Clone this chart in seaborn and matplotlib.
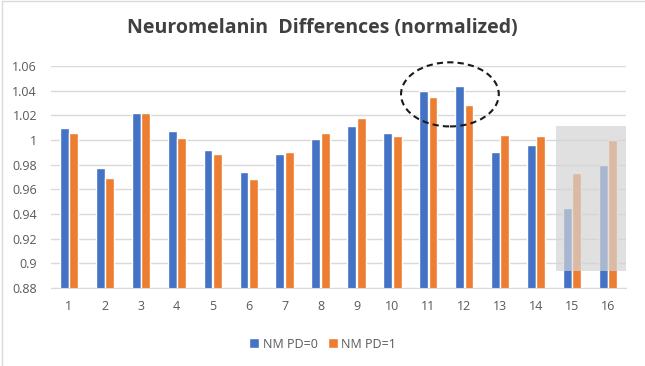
import numpy as np
import matplotlib
matplotlib.use("Agg")
import matplotlib.pyplot as plt
from matplotlib.patches import Ellipse, Rectangle
import pandas as pd
import seaborn as sns

# values
groups = [str(i) for i in range(1, 17)]
nm_pd0 = [1.010, 0.977, 1.022, 1.007, 0.992, 0.974, 0.989, 1.001,
          1.011, 1.006, 1.040, 1.044, 0.990, 0.996, 0.945, 0.980]
nm_pd1 = [1.006, 0.969, 1.022, 1.002, 0.989, 0.968, 0.990, 1.006,
          1.018, 1.003, 1.035, 1.028, 1.004, 1.003, 0.973, 1.000]
series = ["NM PD=0", "NM PD=1"]
colors = ["#4472C4", "#ED7D31"]
yticks = [0.88, 0.9, 0.92, 0.94, 0.96, 0.98, 1.0, 1.02, 1.04, 1.06]
ytick_labels = ["0.88", "0.9", "0.92", "0.94", "0.96", "0.98", "1", "1.02", "1.04", "1.06"]

df = pd.DataFrame({
    "group": groups * 2,
    "value": nm_pd0 + nm_pd1,
    "series": [series[0]] * 16 + [series[1]] * 16,
})

sns.set_style("white")
plt.rcParams['font.family'] = ['Open Sans', 'DejaVu Sans']
txt = "#595959"

fig = plt.figure(figsize=(6.45, 3.66), dpi=100)
ax = fig.add_axes([51 / 645, 1 - 288 / 366, 575 / 645, 222 / 366])

sns.barplot(data=df, x="group", y="value", hue="series", palette=colors,
            width=0.52, gap=0.05, ax=ax, saturation=1, legend=True)

ax.set_ylim(0.88, 1.06)
ax.set_xlim(-0.5, 15.5)
ax.set_yticks(yticks)
ax.set_yticklabels(ytick_labels)
ax.yaxis.grid(True, color="#D9D9D9", lw=1)
ax.set_axisbelow(True)
for s in ["top", "right", "left"]:
    ax.spines[s].set_visible(False)
ax.spines["bottom"].set_color("#D9D9D9")
ax.tick_params(axis="both", length=0, labelsize=9, colors=txt)
ax.tick_params(axis="x", pad=9)
ax.tick_params(axis="y", pad=10)
ax.set_xlabel("")
ax.set_ylabel("")

# highlight ellipse around 11-12
ax.add_patch(Ellipse((10.6, 1.037), 2.72, 0.052, fill=False, ls=(0, (3, 2)),
                     lw=1.5, ec="#1a1a1a", clip_on=False, zorder=5))
# grey box over 15-16
ax.add_patch(Rectangle((13.56, 0.8935), 1.94, 0.118, fc="#D4D4D4", alpha=0.7,
                       ec="none", zorder=4))

fig.suptitle("Neuromelanin  Differences (normalized)", y=1 - 28 / 366, va="center",
             fontsize=14, fontweight="bold", color="#404040")

h, l = ax.get_legend_handles_labels()
ax.legend_.remove()
fig.legend(h, l, loc="center", bbox_to_anchor=(0.5, 1 - 344 / 366), ncol=2,
           frameon=False, fontsize=9, labelcolor=txt, handlelength=0.8,
           handleheight=0.8, handletextpad=0.3, columnspacing=0.8)

# chart border (top and left visible)
fig.add_artist(plt.Line2D([2 / 645, 1], [1 - 1 / 366, 1 - 1 / 366], color="#D9D9D9", lw=1))
fig.add_artist(plt.Line2D([2 / 645, 2 / 645], [0, 1 - 1 / 366], color="#D9D9D9", lw=1))

fig.savefig("out.png", dpi=100)
